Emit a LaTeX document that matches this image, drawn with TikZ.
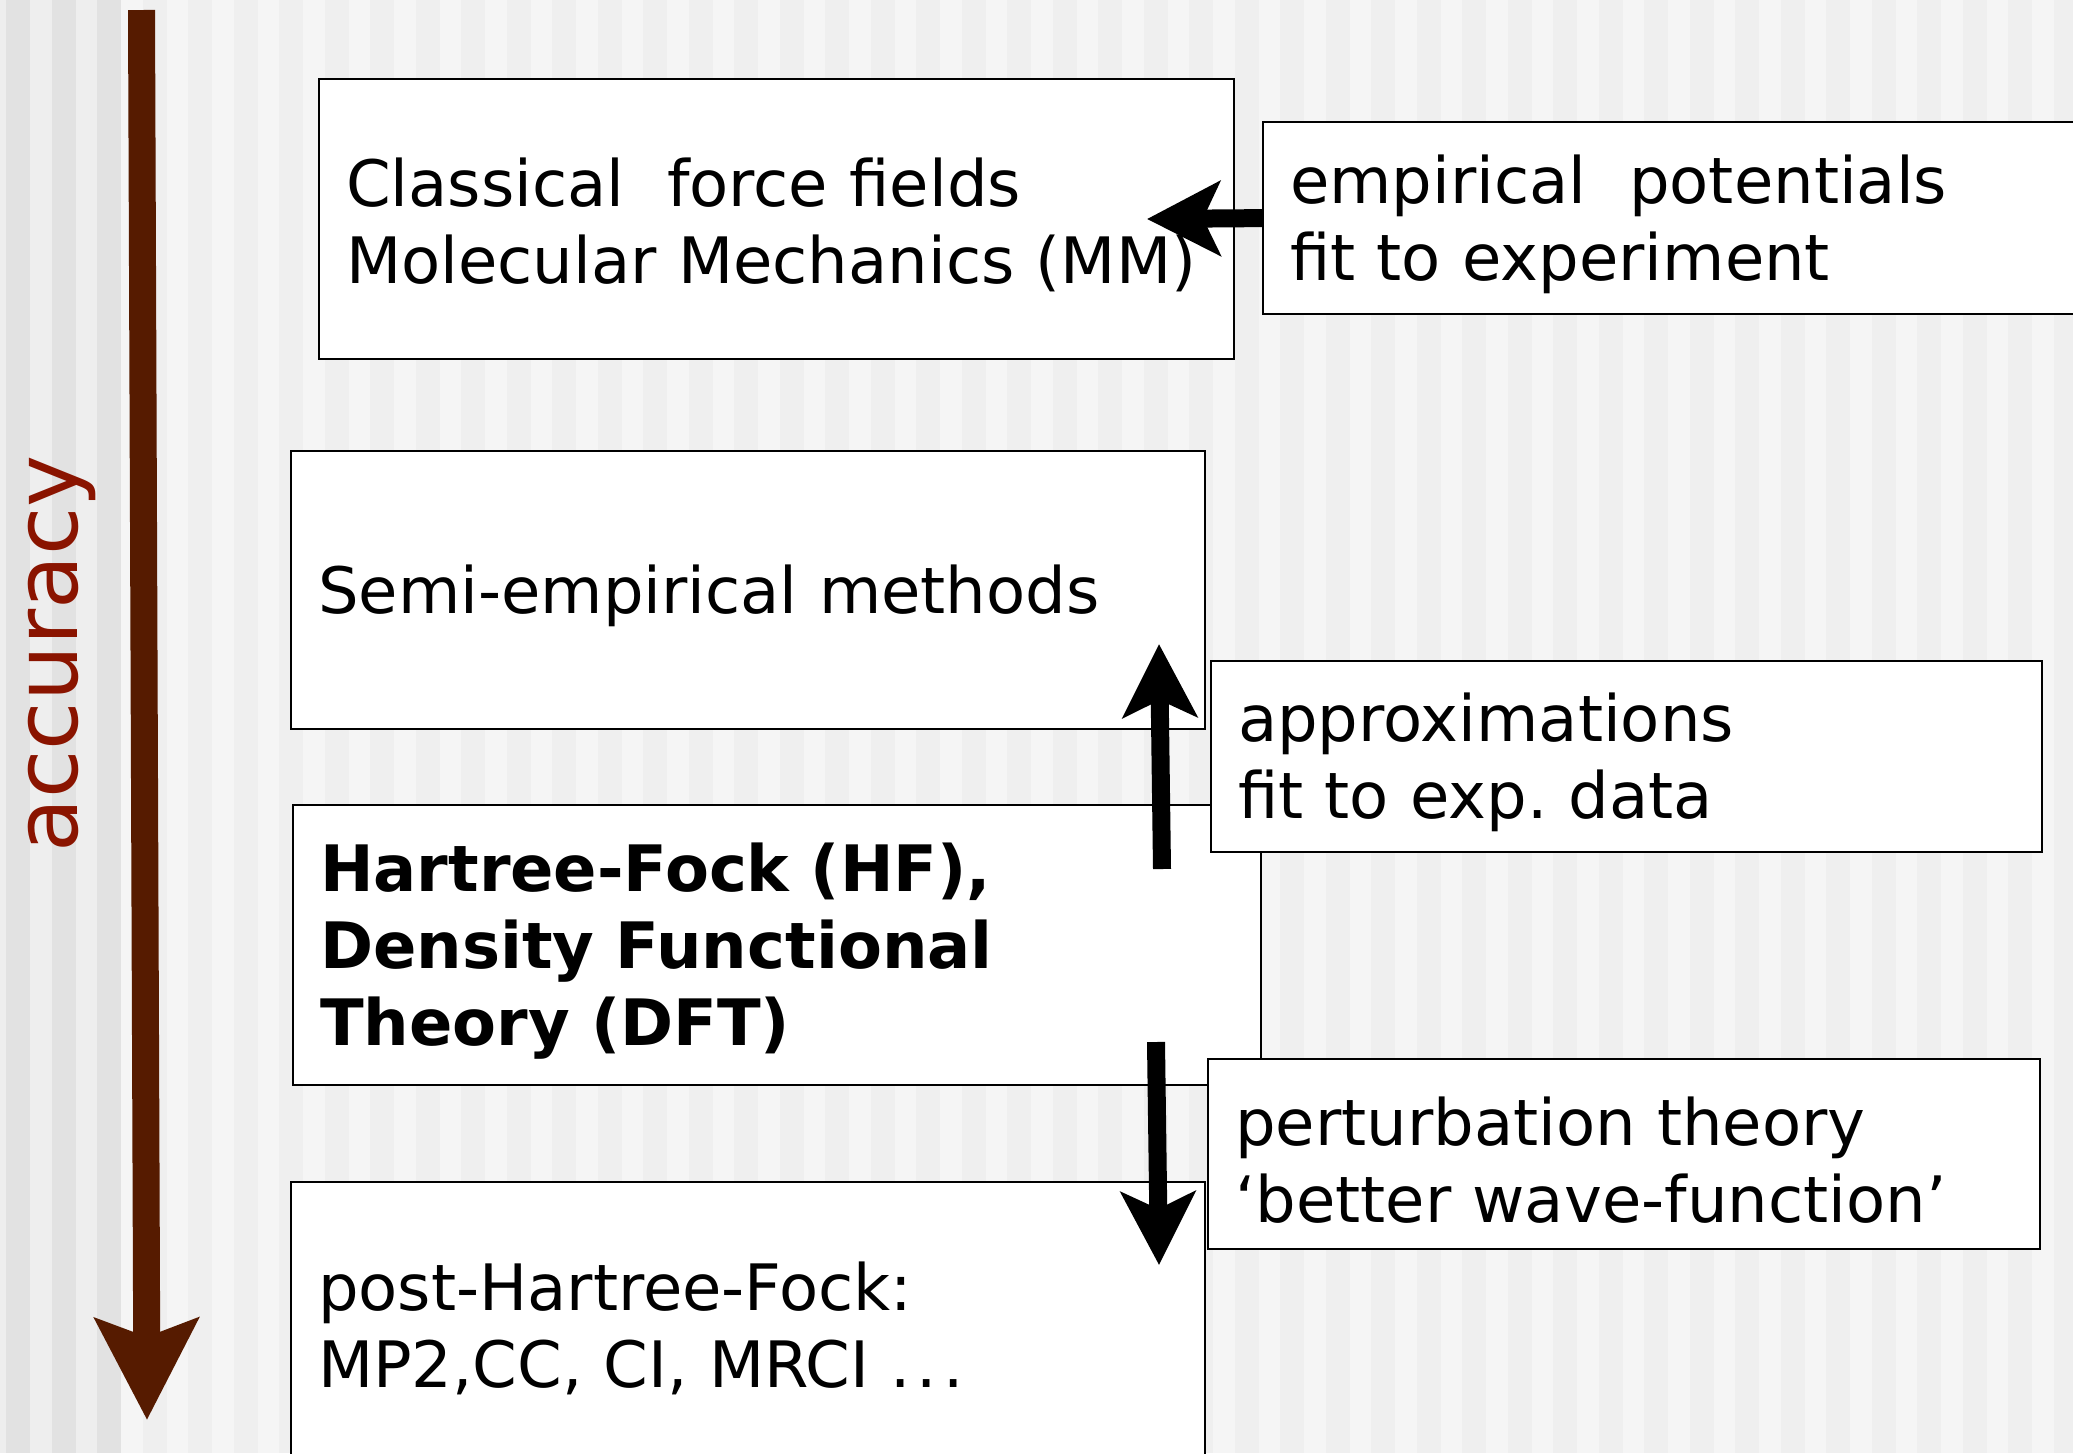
\documentclass[tikz,border=0pt]{standalone}
\usepackage{fontspec}
\setmainfont{DejaVu Sans}
\usetikzlibrary{arrows.meta}
\frenchspacing

\definecolor{panelA}{HTML}{EEEEEE}
\definecolor{panelB}{HTML}{E2E2E2}
\definecolor{stripeA}{HTML}{F5F5F5}
\definecolor{stripeB}{HTML}{EFEFEF}
\definecolor{axisbrown}{HTML}{561B00}
\definecolor{axisred}{HTML}{8A1400}

\tikzset{
  box/.style={draw=black, line width=1.1pt, fill=white, rectangle,
    anchor=north west, align=left, inner xsep=13.5pt, inner ysep=0pt,
    font=\fontsize{32}{38.5}\selectfont,
    execute at begin node={\rule{0pt}{30.5pt}}},
  fatarrow/.style={line width=9pt, draw=black,
    -{Stealth[length=36.5pt, width=37pt, inset=8.5pt]}},
  axisarrow/.style={line width=13.5pt, draw=axisbrown,
    -{Stealth[length=50.5pt, width=51pt, inset=9pt]}},
}

\begin{document}
\begin{tikzpicture}[x=0.5pt, y=-0.5pt]
\clip (0,0) rectangle (2073,1453);

% striped backdrop
\fill[panelA] (0,0) rectangle (121,1453);
\fill[stripeA] (121,0) rectangle (2073,1453);
\foreach \k in {0,1,2} \fill[panelB] ({6+45.5*\k},0) rectangle ++(24,1453);
\foreach \k in {3,...,45} \fill[stripeB] ({6+45.5*\k},0) rectangle ++(24,1453);

% method boxes
\node[box, text width=430.5pt, minimum height=140pt] (mm) at (318,78)
  {Classical\ \ force fields\\Molecular Mechanics (MM)};
\node[box, text width=420pt, minimum height=96pt] (emp) at (1262,121)
  {empirical\ \ potentials\\fit to experiment};
\node[box, text width=430pt, minimum height=139pt] (semi) at (290,450)
  {Semi-empirical methods};
\node[box, text width=457pt, minimum height=140pt,
      font=\fontsize{32}{38.5}\selectfont\bfseries] (hf) at (292,804)
  {Hartree-Fock (HF),\\Density Functional\\Theory (DFT)};
\node[box, text width=388.5pt, minimum height=95.5pt] (approx) at (1210,660)
  {approximations\\fit to exp. data};
\node[box, text width=430pt, minimum height=140pt] (post) at (290,1181)
  {post-Hartree-Fock:\\MP2,CC, CI, MRCI .\kern3pt.\kern3pt.};
\node[box, text width=389pt, minimum height=95pt] (pert) at (1207,1058)
  {perturbation theory\\‘better wave-function’};

% arrows between levels
\coordinate (mmtip) at (1147,219);
\draw[fatarrow] (emp.west) -- (mmtip);

\coordinate (upfoot) at (1162,869);
\coordinate (uptip) at (1159,644);
\draw[fatarrow] (upfoot) -- (uptip);

\coordinate (downtop) at (1156,1042);
\coordinate (downtip) at (1159,1265);
\draw[fatarrow] (downtop) -- (downtip);

% accuracy axis
\coordinate (axtop) at (141.5,10);
\coordinate (axtip) at (147,1420);
\draw[axisarrow] (axtop) -- (axtip);
\node[rotate=90, anchor=base, inner sep=0pt, text=axisred,
      font=\fontsize{44}{44}\selectfont] (acc) at (77,654) {accuracy};
\end{tikzpicture}
\end{document}
